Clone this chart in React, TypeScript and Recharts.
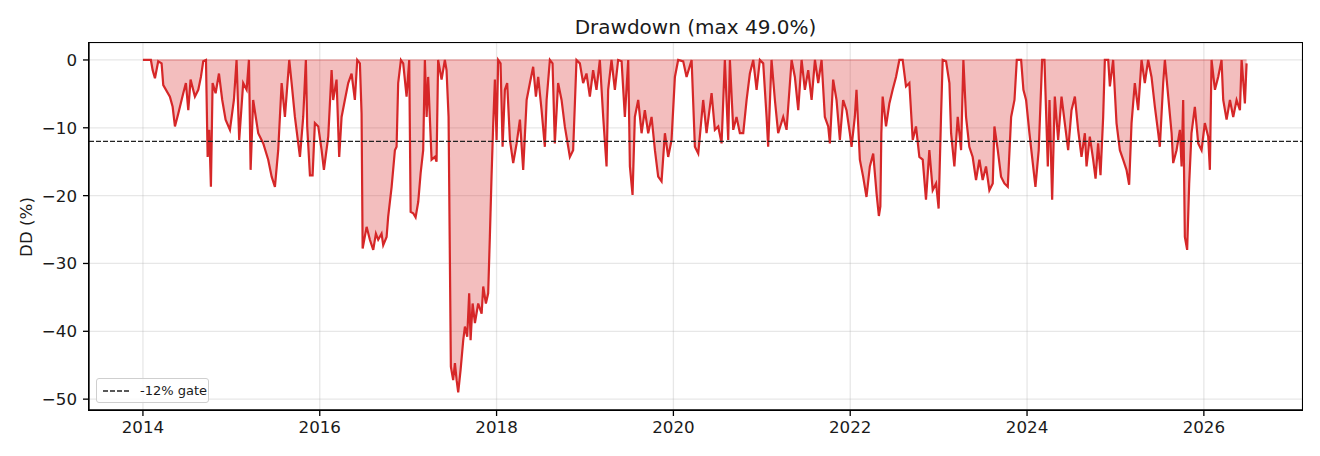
import {
  Area,
  CartesianGrid,
  ComposedChart,
  ReferenceLine,
  XAxis,
  YAxis,
} from "recharts";

/* ---- matplotlib-ish palette ---- */
const RED = "#d62728";
const INK = "#1a1a1a";
const GRID = "#b0b0b0";
const FONT = "'DejaVu Sans', 'Liberation Sans', sans-serif";

// drawdown in %, keyed by decimal year
const dd2014to2016: [number, number][] = [
  [2014.0, 0], [2014.09, 0], [2014.11, -1.5], [2014.136, -2.7], [2014.173, -0.2],
  [2014.211, -0.5], [2014.23, -3.7], [2014.305, -5.4], [2014.336, -6.9], [2014.362, -9.8],
  [2014.4, -7.9], [2014.456, -4.9], [2014.486, -3.4], [2014.513, -7.4], [2014.539, -2.9],
  [2014.588, -5.4], [2014.626, -4.4], [2014.656, -2.5], [2014.682, -0.2], [2014.713, 0],
  [2014.732, -14.3], [2014.75, -10.3], [2014.769, -18.7], [2014.788, -3.4], [2014.822, -4.9],
  [2014.86, -2.0], [2014.897, -5.9], [2014.935, -8.8], [2014.984, -10.3], [2015.029, -5.9],
  [2015.059, 0], [2015.089, -11.8], [2015.134, -3.4], [2015.173, -4.4], [2015.199, 0],
  [2015.218, -16.2], [2015.247, -5.9], [2015.304, -10.8], [2015.361, -12.3], [2015.417, -14.7],
  [2015.456, -17.2], [2015.493, -18.7], [2015.53, -13.3], [2015.569, -3.4], [2015.606, -8.4],
  [2015.655, 0], [2015.682, -3.4], [2015.719, -8.4], [2015.776, -14.3], [2015.813, -8.4],
  [2015.843, 0], [2015.858, -9.8], [2015.889, -17.0], [2015.919, -17.0], [2015.945, -9.3],
  [2015.983, -9.8], [2016.021, -13.3], [2016.047, -16.2], [2016.096, -11.3], [2016.134, -1.5],
  [2016.152, -5.9], [2016.19, -2.9], [2016.22, -14.3], [2016.247, -8.4], [2016.284, -5.9],
  [2016.322, -3.4], [2016.36, -2.0], [2016.397, -5.9], [2016.424, 0], [2016.454, -0.5],
  [2016.473, -7.9],
];

const dd2016to2018: [number, number][] = [
  [2016.485, -27.8], [2016.53, -24.6], [2016.567, -26.5], [2016.605, -28.0], [2016.635, -25.6],
  [2016.661, -26.5], [2016.699, -25.6], [2016.718, -27.3], [2016.756, -26.1], [2016.774, -23.1],
  [2016.813, -18.7], [2016.85, -13.3], [2016.869, -12.8], [2016.887, -3.4], [2016.918, 0],
  [2016.944, -0.5], [2016.982, -5.4], [2017.012, 0], [2017.028, -22.4], [2017.057, -22.6],
  [2017.084, -23.2], [2017.114, -20.9], [2017.141, -16.7], [2017.17, -13.3], [2017.189, 0],
  [2017.209, -8.4], [2017.226, -2.5], [2017.265, -14.7], [2017.302, -14.3], [2017.321, -15.0],
  [2017.339, 0], [2017.378, -2.9], [2017.415, 0], [2017.434, -1.5], [2017.457, -8.4],
  [2017.483, -45.2], [2017.509, -47.2], [2017.529, -44.7], [2017.548, -47.2], [2017.566, -49.0],
  [2017.593, -45.7], [2017.623, -41.3], [2017.642, -39.3], [2017.668, -40.8], [2017.69, -34.4],
  [2017.706, -41.3], [2017.729, -35.9], [2017.755, -38.8], [2017.792, -35.9], [2017.831, -37.4],
  [2017.849, -33.4], [2017.879, -35.9], [2017.905, -34.4], [2017.924, -26.1], [2017.943, -17.2],
  [2017.961, -9.8], [2017.981, -2.9], [2018.0, -11.8], [2018.018, 0], [2018.045, -0.5],
  [2018.068, -12.8], [2018.094, -4.4], [2018.12, -3.4], [2018.151, -11.8], [2018.188, -15.2],
  [2018.227, -12.3], [2018.264, -8.8], [2018.301, -16.2], [2018.34, -5.9], [2018.377, -3.4],
  [2018.414, -1.0], [2018.445, -5.4], [2018.471, -2.5], [2018.509, -7.4], [2018.546, -12.8],
];

const dd2018to2022: [number, number][] = [
  [2018.566, -5.9], [2018.603, 0], [2018.633, -0.5], [2018.659, -12.3], [2018.696, -3.4],
  [2018.735, -5.9], [2018.772, -9.8], [2018.829, -14.3], [2018.866, -13.3], [2018.904, 0],
  [2018.942, -0.5], [2018.979, -3.4], [2019.017, -2.0], [2019.055, -5.4], [2019.092, -1.5],
  [2019.13, -4.4], [2019.168, 0], [2019.206, -8.4], [2019.244, -15.7], [2019.262, -4.4],
  [2019.3, 0], [2019.338, -4.4], [2019.375, 0], [2019.414, -0.2], [2019.451, -8.4],
  [2019.489, 0], [2019.508, -15.7], [2019.538, -19.9], [2019.564, -8.4], [2019.602, -5.9],
  [2019.64, -10.8], [2019.677, -7.4], [2019.715, -10.8], [2019.753, -8.4], [2019.791, -13.3],
  [2019.828, -17.2], [2019.866, -17.9], [2019.904, -10.8], [2019.941, -14.3], [2019.979, -11.8],
  [2020.017, -2.5], [2020.054, 0], [2020.111, -0.2], [2020.149, -2.5], [2020.206, 0],
  [2020.243, -12.8], [2020.281, -13.8], [2020.337, -5.9], [2020.375, -10.8], [2020.432, -4.9],
  [2020.469, -10.3], [2020.507, -9.8], [2020.545, -12.3], [2020.582, 0], [2020.62, -11.8],
  [2020.639, 0], [2020.677, -10.3], [2020.714, -8.4], [2020.752, -10.8], [2020.79, -10.8],
  [2020.828, -5.9], [2020.865, -2.0], [2020.903, 0], [2020.941, -4.4], [2020.978, 0],
  [2021.016, -0.5], [2021.054, -8.4], [2021.072, -12.8], [2021.11, 0], [2021.148, -5.9],
  [2021.185, -10.8], [2021.242, -8.4], [2021.28, -10.3], [2021.337, 0], [2021.374, -2.5],
  [2021.412, -7.4], [2021.45, 0], [2021.487, -4.4], [2021.525, -1.5], [2021.563, -5.9],
  [2021.601, 0], [2021.638, -3.4], [2021.676, 0], [2021.713, -8.4], [2021.751, -9.8],
  [2021.77, -12.3], [2021.807, -2.9], [2021.845, -5.9], [2021.883, -11.8], [2021.92, -5.9],
  [2021.958, -7.4], [2021.996, -10.8], [2022.015, -12.8], [2022.052, -8.4], [2022.071, -4.4],
  [2022.109, -14.7], [2022.146, -17.2], [2022.184, -20.2], [2022.222, -15.7], [2022.26, -13.8],
  [2022.298, -19.7], [2022.324, -23.0], [2022.341, -21.6], [2022.352, -10.8], [2022.367, -5.4],
];

const dd2022to2026: [number, number][] = [
  [2022.405, -9.8], [2022.443, -6.4], [2022.48, -4.4], [2022.518, -2.5], [2022.556, 0],
  [2022.593, 0], [2022.631, -3.9], [2022.669, -3.4], [2022.707, -11.8], [2022.744, -9.8],
  [2022.782, -14.3], [2022.82, -14.7], [2022.857, -20.6], [2022.895, -13.3], [2022.933, -19.2],
  [2022.971, -18.2], [2023.0, -21.9], [2023.027, -8.4], [2023.046, 0], [2023.084, -0.2],
  [2023.122, -3.4], [2023.141, -10.8], [2023.178, -15.7], [2023.216, -8.4], [2023.254, -13.3],
  [2023.28, 0], [2023.31, -8.4], [2023.347, -12.8], [2023.385, -14.3], [2023.423, -17.7],
  [2023.461, -14.7], [2023.498, -17.7], [2023.536, -15.7], [2023.574, -19.2], [2023.612, -18.2],
  [2023.631, -9.8], [2023.669, -13.3], [2023.706, -17.2], [2023.744, -18.2], [2023.782, -18.7],
  [2023.82, -8.4], [2023.858, -5.9], [2023.884, 0], [2023.933, 0], [2023.959, -4.4],
  [2023.989, -5.9], [2024.027, -10.8], [2024.065, -15.2], [2024.095, -18.7], [2024.132, -13.3],
  [2024.171, 0], [2024.197, 0], [2024.235, -15.7], [2024.254, -5.9], [2024.284, -20.6],
  [2024.314, -5.4], [2024.352, -11.8], [2024.39, -5.4], [2024.427, -9.3], [2024.465, -13.3],
  [2024.503, -7.4], [2024.541, -5.4], [2024.578, -10.3], [2024.616, -14.3], [2024.654, -10.8],
  [2024.673, -15.7], [2024.71, -11.3], [2024.748, -14.7], [2024.775, -17.5], [2024.804, -12.3],
  [2024.831, -17.0], [2024.861, -8.4], [2024.88, 0], [2024.918, 0], [2024.937, -3.9],
  [2024.974, 0], [2025.012, -9.3], [2025.05, -13.3], [2025.087, -14.7], [2025.125, -16.2],
  [2025.155, -18.4], [2025.182, -9.3], [2025.219, -3.4], [2025.257, -7.4], [2025.295, 0],
  [2025.332, -3.4], [2025.37, 0], [2025.408, -2.5], [2025.446, -6.9], [2025.484, -10.8],
  [2025.502, -12.8], [2025.54, -3.4], [2025.559, 0], [2025.597, -5.4], [2025.635, -10.8],
  [2025.653, -15.2], [2025.691, -13.3], [2025.729, -10.3], [2025.748, -15.7], [2025.766, -5.9],
  [2025.785, -26.1], [2025.811, -28.0], [2025.834, -18.2], [2025.86, -10.8], [2025.898, -6.9],
  [2025.936, -12.3], [2025.974, -13.3], [2026.011, -9.3], [2026.049, -11.3], [2026.068, -16.2],
  [2026.087, 0], [2026.125, -4.4], [2026.162, -2.5], [2026.2, 0], [2026.219, -5.9],
  [2026.257, -8.8], [2026.295, -5.9], [2026.332, -8.4], [2026.37, -5.9], [2026.408, -7.4],
  [2026.427, 0], [2026.464, -6.4], [2026.483, -0.5],
];

const yearTicks = [2014, 2016, 2018, 2020, 2022, 2024, 2026];
const ddTicks = [0, -10, -20, -30, -40, -50];
const GATE = -12;
const MAX_DD = 49.0;

const series = [...dd2014to2016, ...dd2016to2018, ...dd2018to2022, ...dd2022to2026].map(
  ([t, dd]) => ({ t, dd })
);
const firstT = series[0].t;
const lastT = series[series.length - 1].t;

const X_DOMAIN: [number, number] = [2013.39, 2027.11];
const Y_DOMAIN: [number, number] = [-51.6, 2.5];

const W = 1320;
const H = 456;
// axes box (plot area) inside the figure
const PLOT = { left: 89, top: 43, right: 1302, bottom: 410 };

const tickStyle = { fontSize: 16.7, fill: INK, fontFamily: FONT };
const spine = { stroke: "#000", strokeWidth: 1.3 };
const minus = (v: number) => String(v).replace("-", "\u2212");

export default function App() {
  return (
    <div
      style={{
        position: "absolute",
        left: 0,
        top: 0,
        width: W,
        height: H,
        background: "#fff",
        fontFamily: FONT,
        color: INK,
      }}
    >
      <div
        style={{
          position: "absolute",
          left: PLOT.left,
          width: PLOT.right - PLOT.left,
          top: 15,
          fontSize: 20,
          lineHeight: "24px",
          textAlign: "center",
        }}
      >
        {`Drawdown (max ${MAX_DD.toFixed(1)}%)`}
      </div>
      <div
        style={{
          position: "absolute",
          left: 26,
          top: (PLOT.top + PLOT.bottom) / 2,
          fontSize: 16.7,
          whiteSpace: "nowrap",
          transform: "translate(-50%, -50%) rotate(-90deg)",
        }}
      >
        DD (%)
      </div>

      <ComposedChart
        width={W}
        height={H}
        data={series}
        margin={{ top: PLOT.top, right: W - PLOT.right, bottom: 0, left: 0 }}
      >
        <CartesianGrid stroke={GRID} strokeOpacity={0.3} strokeWidth={1.3} />
        <XAxis
          dataKey="t"
          type="number"
          domain={X_DOMAIN}
          ticks={yearTicks}
          allowDataOverflow
          height={H - PLOT.bottom}
          tick={tickStyle}
          tickSize={6}
          tickMargin={5}
          tickLine={{ stroke: "#000", strokeWidth: 1.3 }}
          axisLine={spine}
        />
        <YAxis
          type="number"
          domain={Y_DOMAIN}
          ticks={ddTicks}
          allowDataOverflow
          width={PLOT.left}
          tick={tickStyle}
          tickFormatter={minus}
          tickSize={6}
          tickMargin={6}
          tickLine={{ stroke: "#000", strokeWidth: 1.3 }}
          axisLine={spine}
        />
        <Area
          type="linear"
          dataKey="dd"
          baseValue={0}
          stroke={RED}
          strokeWidth={2.2}
          strokeLinejoin="miter"
          fill={RED}
          fillOpacity={0.3}
          isAnimationActive={false}
          dot={false}
          activeDot={false}
        />
        <ReferenceLine
          segment={[
            { x: firstT, y: 0 },
            { x: lastT, y: 0 },
          ]}
          stroke={RED}
          strokeOpacity={0.35}
          strokeWidth={1.3}
        />
        <ReferenceLine y={GATE} stroke="#222" strokeWidth={1.4} strokeDasharray="5 2" />
      </ComposedChart>

      {/* full box frame around the axes, like matplotlib spines */}
      <div
        style={{
          position: "absolute",
          left: PLOT.left - 0.65,
          top: PLOT.top - 0.65,
          width: PLOT.right - PLOT.left + 1.3,
          height: PLOT.bottom - PLOT.top + 1.3,
          boxSizing: "border-box",
          border: "1.3px solid #000",
          pointerEvents: "none",
        }}
      />

      <div
        style={{
          position: "absolute",
          left: 96,
          top: 378,
          width: 113,
          height: 25,
          boxSizing: "border-box",
          border: "1px solid #cfcfcf",
          borderRadius: 3,
          background: "rgba(255,255,255,0.8)",
          display: "flex",
          alignItems: "center",
        }}
      >
        <svg width={40} height={10} style={{ marginLeft: 5 }}>
          <line x1={1} y1={5} x2={27} y2={5} stroke="#222" strokeWidth={1.4} strokeDasharray="5 2" />
        </svg>
        <span style={{ fontSize: 13, marginLeft: -2 }}>-12% gate</span>
      </div>
    </div>
  );
}
